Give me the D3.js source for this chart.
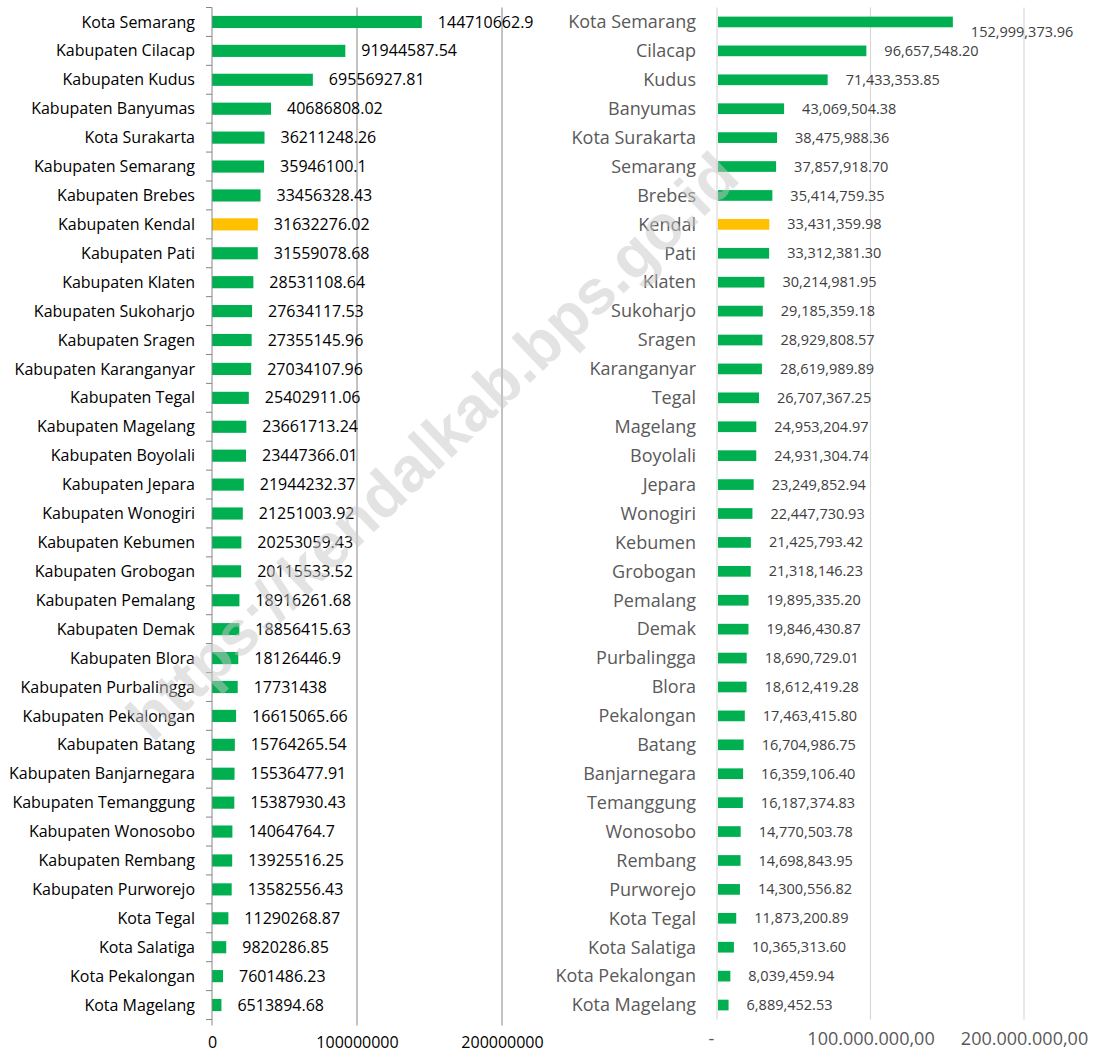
<!DOCTYPE html>
<html>
<head>
<meta charset="utf-8">
<script src="https://cdn.jsdelivr.net/npm/d3@7"></script>
<style>
  body { margin: 0; background: #fff; }
  svg { display: block; }
</style>
</head>
<body>
<svg id="chart" width="1095" height="1052"></svg>
<script>
// left panel: raw numbers
const leftNames = ["Kota Semarang","Kabupaten Cilacap","Kabupaten Kudus","Kabupaten Banyumas","Kota Surakarta","Kabupaten Semarang","Kabupaten Brebes","Kabupaten Kendal","Kabupaten Pati","Kabupaten Klaten","Kabupaten Sukoharjo","Kabupaten Sragen","Kabupaten Karanganyar","Kabupaten Tegal","Kabupaten Magelang","Kabupaten Boyolali","Kabupaten Jepara","Kabupaten Wonogiri","Kabupaten Kebumen","Kabupaten Grobogan","Kabupaten Pemalang","Kabupaten Demak","Kabupaten Blora","Kabupaten Purbalingga","Kabupaten Pekalongan","Kabupaten Batang","Kabupaten Banjarnegara","Kabupaten Temanggung","Kabupaten Wonosobo","Kabupaten Rembang","Kabupaten Purworejo","Kota Tegal","Kota Salatiga","Kota Pekalongan","Kota Magelang"];
const leftValues = [144710662.9,91944587.54,69556927.81,40686808.02,36211248.26,35946100.1,33456328.43,31632276.02,31559078.68,28531108.64,27634117.53,27355145.96,27034107.96,25402911.06,23661713.24,23447366.01,21944232.37,21251003.92,20253059.43,20115533.52,18916261.68,18856415.63,18126446.9,17731438,16615065.66,15764265.54,15536477.91,15387930.43,14064764.7,13925516.25,13582556.43,11290268.87,9820286.85,7601486.23,6513894.68];
const leftTicks = [0, 100000000, 200000000];

// right panel
const rightNames = ["Kota Semarang","Cilacap","Kudus","Banyumas","Kota Surakarta","Semarang","Brebes","Kendal","Pati","Klaten","Sukoharjo","Sragen","Karanganyar","Tegal","Magelang","Boyolali","Jepara","Wonogiri","Kebumen","Grobogan","Pemalang","Demak","Purbalingga","Blora","Pekalongan","Batang","Banjarnegara","Temanggung","Wonosobo","Rembang","Purworejo","Kota Tegal","Kota Salatiga","Kota Pekalongan","Kota Magelang"];
const rightValues = [152999373.96,96657548.20,71433353.85,43069504.38,38475988.36,37857918.70,35414759.35,33431359.98,33312381.30,30214981.95,29185359.18,28929808.57,28619989.89,26707367.25,24953204.97,24931304.74,23249852.94,22447730.93,21425793.42,21318146.23,19895335.20,19846430.87,18690729.01,18612419.28,17463415.80,16704986.75,16359106.40,16187374.83,14770503.78,14698843.95,14300556.82,11873200.89,10365313.60,8039459.94,6889452.53];
const rightTicks = [0, 100000000, 200000000];

const highlight = "Kendal";
const green = "#00b050", gold = "#ffc000";
const font = "'Open Sans', sans-serif";

var svg = d3.select("#chart");
const plotTop = 7.5, plotBottom = 1019.5;

// ---------- left panel ----------
var xL = d3.scaleLinear().domain([0, 200000000]).range([212, 502]);
var yL = d3.scaleBand().domain(leftNames).range([plotTop, plotBottom]).paddingInner(0.58).paddingOuter(0.29);

var left = svg.append("g");

// gridlines (extend down as tick marks)
left.selectAll(".grid")
    .data(leftTicks.slice(1))
    .enter().append("line")
    .attr("x1", d => xL(d)).attr("x2", d => xL(d))
    .attr("y1", plotTop).attr("y2", plotBottom + 6)
    .attr("stroke", "#868686").attr("stroke-width", 1);

left.selectAll("rect")
    .data(leftNames)
    .enter().append("rect")
    .attr("x", xL(0))
    .attr("y", d => yL(d))
    .attr("width", (d, i) => xL(leftValues[i]) - xL(0))
    .attr("height", yL.bandwidth())
    .attr("fill", d => d.indexOf(highlight) >= 0 ? gold : green);

// category axis with ticks at the band boundaries
left.append("line")
    .attr("x1", xL(0)).attr("x2", xL(0))
    .attr("y1", plotTop).attr("y2", plotBottom + 6)
    .attr("stroke", "#868686");
left.selectAll(".btick")
    .data(d3.range(leftNames.length + 1))
    .enter().append("line")
    .attr("x1", xL(0) - 6).attr("x2", xL(0))
    .attr("y1", i => plotTop + i * yL.step()).attr("y2", i => plotTop + i * yL.step())
    .attr("stroke", "#868686");

left.selectAll(".cat")
    .data(leftNames)
    .enter().append("text")
    .attr("x", 195)
    .attr("y", d => yL(d) + yL.bandwidth() / 2)
    .attr("dy", "0.35em")
    .attr("text-anchor", "end")
    .style("font", "16px " + font)
    .attr("fill", "#000")
    .text(d => d);

left.selectAll(".val")
    .data(leftNames)
    .enter().append("text")
    .attr("x", (d, i) => xL(leftValues[i]) + 16)
    .attr("y", d => yL(d) + yL.bandwidth() / 2)
    .attr("dy", "0.35em")
    .style("font", "16px " + font)
    .attr("fill", "#000")
    .text((d, i) => String(leftValues[i]));

left.append("g")
    .attr("transform", "translate(0," + (plotBottom + 6) + ")")
    .call(d3.axisBottom(xL).tickValues(leftTicks).tickSize(0).tickPadding(11).tickFormat(d3.format("d")))
    .call(g => g.select(".domain").remove())
    .call(g => g.selectAll("text").style("font", "16px " + font).attr("fill", "#000"));

// ---------- right panel ----------
var xR = d3.scaleLinear().domain([0, 200000000]).range([717, 1024]);
var yR = d3.scaleBand().domain(rightNames).range([plotTop, plotBottom]).paddingInner(0.63).paddingOuter(0.315);

var right = svg.append("g");

right.selectAll(".grid")
    .data(rightTicks)
    .enter().append("line")
    .attr("x1", d => xR(d)).attr("x2", d => xR(d))
    .attr("y1", plotTop).attr("y2", plotBottom)
    .attr("stroke", "#d9d9d9").attr("stroke-width", 1.2);

right.selectAll("rect")
    .data(rightNames)
    .enter().append("rect")
    .attr("x", xR(0) + 1)
    .attr("y", d => yR(d))
    .attr("width", (d, i) => xR(rightValues[i]) - xR(0))
    .attr("height", yR.bandwidth())
    .attr("fill", d => d == highlight ? gold : green);

right.selectAll(".cat")
    .data(rightNames)
    .enter().append("text")
    .attr("x", 696)
    .attr("y", d => yR(d) + yR.bandwidth() / 2)
    .attr("dy", "0.35em")
    .attr("text-anchor", "end")
    .style("font", "18px " + font)
    .attr("fill", "#595959")
    .text(d => d);

var commaFmt = d3.format(",.2f");
right.selectAll(".val")
    .data(rightNames)
    .enter().append("text")
    .attr("x", (d, i) => xR(rightValues[i]) + 19)
    .attr("y", (d, i) => yR(d) + yR.bandwidth() / 2 + (i == 0 ? 10 : 0))
    .attr("dy", "0.35em")
    .style("font", "14.5px " + font)
    .attr("fill", "#404040")
    .text((d, i) => commaFmt(rightValues[i]));

// indonesian style tick labels, zero shown as a dash
var idLocale = d3.formatLocale({decimal: ",", thousands: ".", grouping: [3], currency: ["", ""]});
var idFmt = idLocale.format(",.2f");
right.append("g")
    .attr("transform", "translate(0," + plotBottom + ")")
    .call(d3.axisBottom(xR).tickValues(rightTicks).tickSize(0).tickPadding(13)
        .tickFormat(d => d == 0 ? "-" : idFmt(d)))
    .call(g => g.select(".domain").remove())
    .call(g => g.selectAll("text").style("font", "18px " + font).attr("fill", "#595959"))
    .call(g => g.selectAll(".tick").filter(d => d == 0).select("text").attr("dx", -6));

// watermark on top
svg.append("text")
    .attr("transform", "translate(432,446) rotate(-43.7)")
    .attr("text-anchor", "middle")
    .attr("dy", "0.35em")
    .style("font", "bold 63px 'Liberation Sans', Arial, sans-serif")
    .attr("fill", "#c8c8c8")
    .attr("fill-opacity", 0.5)
    .text("https://kendalkab.bps.go.id");
</script>
</body>
</html>
